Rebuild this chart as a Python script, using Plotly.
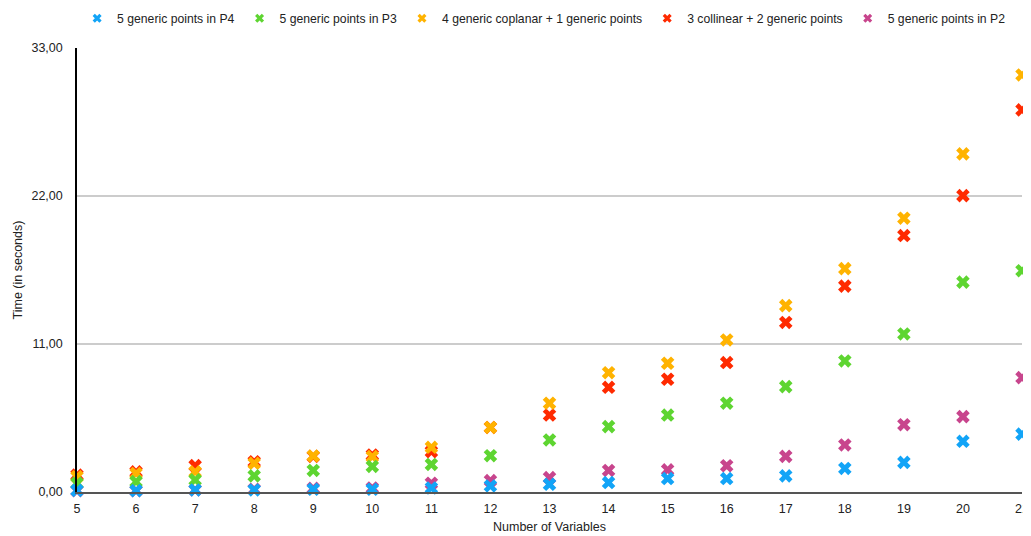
import plotly.graph_objects as go

variables = list(range(5, 22))

p4 = [0.12, 0.1, 0.15, 0.15, 0.2, 0.2, 0.3, 0.45, 0.57, 0.7, 1.0, 1.0, 1.2, 1.75, 2.2, 3.77, 4.3]
p3 = [0.65, 0.77, 0.9, 1.2, 1.6, 1.9, 2.05, 2.7, 3.87, 4.86, 5.72, 6.6, 7.83, 9.74, 11.75, 15.6, 16.45]
coplanar = [1.14, 1.38, 1.5, 2.13, 2.68, 2.63, 3.32, 4.8, 6.6, 8.87, 9.57, 11.3, 13.85, 16.6, 20.35, 25.13, 31.0]
collinear = [1.26, 1.5, 1.96, 2.25, 2.65, 2.75, 3.0, 4.8, 5.72, 7.78, 8.38, 9.62, 12.6, 15.3, 19.06, 22.03, 28.4]
p2 = [0.1, 0.1, 0.15, 0.2, 0.27, 0.3, 0.65, 0.85, 1.07, 1.6, 1.65, 1.95, 2.65, 3.5, 5.0, 5.6, 8.5]

series = [
    # name, values, color, legend rank (draw order = list order)
    ("3 collinear + 2 generic points", collinear, "#FF2A00", 4),
    ("4 generic coplanar + 1 generic points", coplanar, "#FFB300", 3),
    ("5 generic points in P2", p2, "#C8458D", 5),
    ("5 generic points in P3", p3, "#5ED531", 2),
    ("5 generic points in P4", p4, "#12A4F7", 1),
]

fig = go.Figure()
for name, vals, color, rank in series:
    fig.add_trace(go.Scatter(
        x=variables, y=vals, mode="markers", name=name, showlegend=False,
        marker=dict(symbol="x", size=12, color=color, line=dict(width=0)),
        cliponaxis=False,
    ))
# legend entries with small symbols
for name, vals, color, rank in series:
    fig.add_trace(go.Scatter(
        x=[None], y=[None], mode="markers", name=name, legendrank=rank,
        marker=dict(symbol="x", size=8, color=color, line=dict(width=0)),
    ))

fig.update_layout(
    width=1031, height=536,
    margin=dict(l=69, r=17, t=40, b=52, autoexpand=False),
    paper_bgcolor="white", plot_bgcolor="white",
    font=dict(family="Liberation Sans, Arial, sans-serif", size=12.5, color="#222222"),
    separators=",.",
    showlegend=True,
    legend=dict(orientation="h", x=0.52, xanchor="center", xref="container",
                y=0.981, yanchor="middle", yref="container",
                font=dict(size=12.2, color="#222222"), itemwidth=30,
                traceorder="normal"),
    xaxis=dict(range=[5, 21], tickmode="linear", tick0=5, dtick=1,
               showgrid=False, zeroline=False, automargin=False,
               showline=True, linecolor="#555555", linewidth=2,
               ticks="", ticklabelstandoff=4,
               title=dict(text="Number of Variables", standoff=7, font=dict(size=12.5))),
    yaxis=dict(range=[0, 33], tickvals=[0, 11, 22, 33], tickformat=".2f",
               showgrid=True, gridcolor="#CCCCCC", gridwidth=1.5, automargin=False,
               zeroline=False, showline=True, linecolor="#000000", linewidth=1.5,
               ticks="", ticklabelstandoff=10,
               title=dict(text="Time (in seconds)", standoff=6, font=dict(size=12.5))),
)

fig.write_html("out.html")
